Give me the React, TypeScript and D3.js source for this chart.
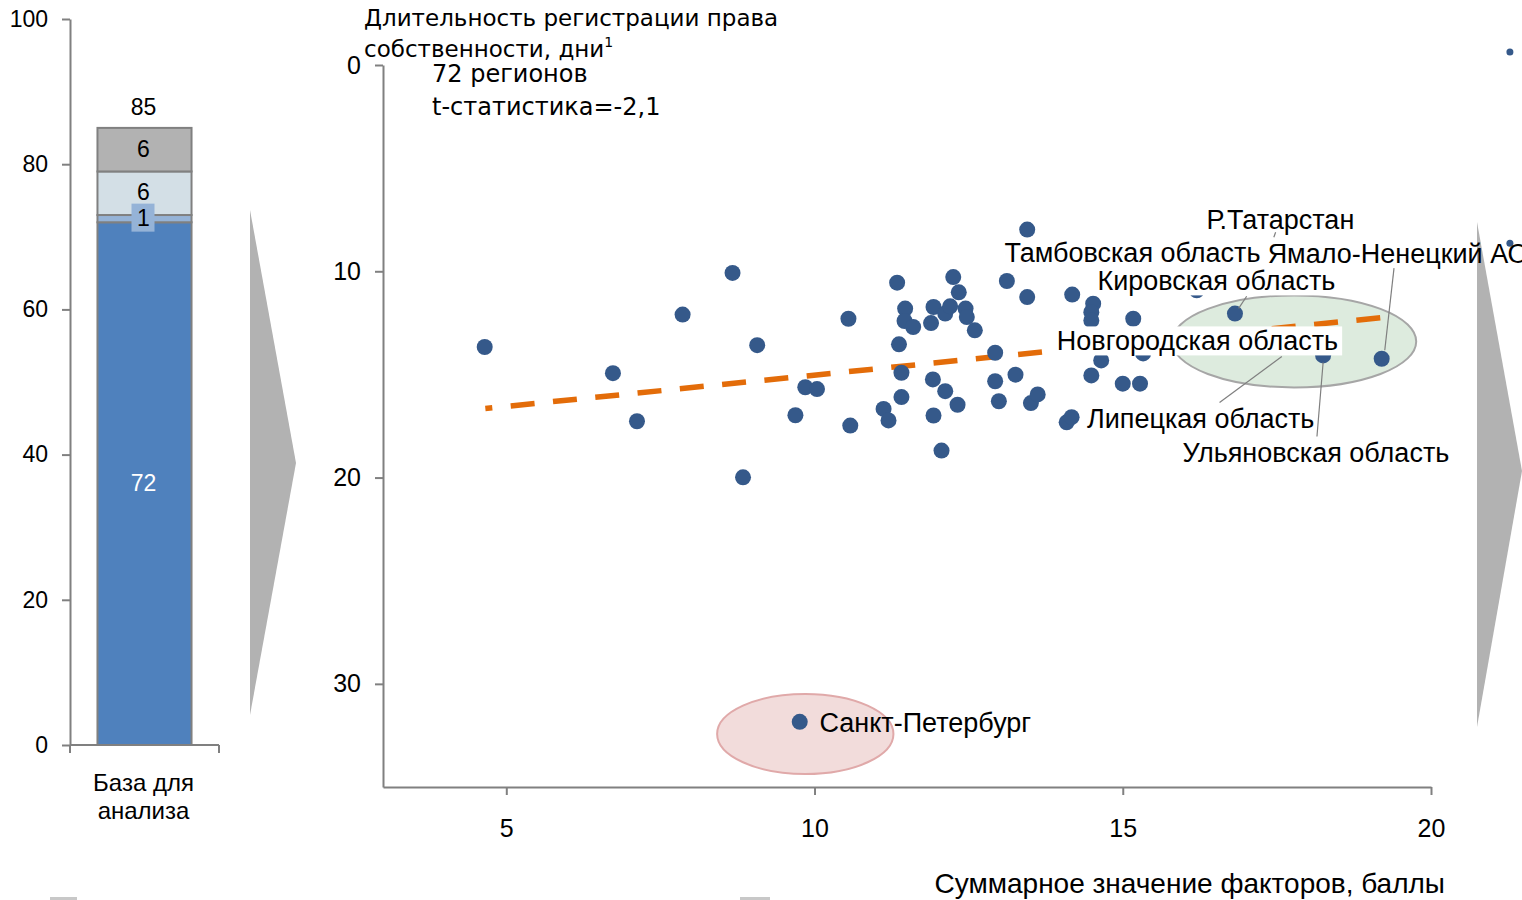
import React, { useEffect, useRef } from 'react';
import * as d3 from 'd3';

// left stacked bar
const barCategory = 'База для анализа';
const barCategoryLines = ['База для', 'анализа'];
const barSegmentValues = [72, 1, 6, 6];
const barSegmentColors = ['#4F81BD', '#95B3D7', '#D3DFE6', '#B2B2B2'];
const barTotal = 85;
const barTicks = [0, 20, 40, 60, 80, 100];

// scatter: x = summary score, y = registration days
const scoreX = [
  4.65, 6.73, 7.12, 7.86, 8.67, 9.07, 8.84, 9.69, 9.85, 10.04, 10.55, 10.58, 11.12, 11.2, 11.34,
  11.37, 11.41, 11.41, 11.47, 11.46, 11.6, 11.93, 11.89, 11.92, 11.93, 12.06, 12.12, 12.12, 12.2,
  12.25, 12.32, 12.34, 12.45, 12.47, 12.6, 12.93, 12.93, 12.99, 13.12, 13.26, 13.45, 13.45, 13.51,
  13.62, 14.09, 14.17, 14.18, 14.52, 14.49, 14.49, 14.49, 14.65, 15.0, 15.28, 15.17, 15.33, 16.2,
  16.82, 18.25, 19.2, 17.71, 9.76,
];
const daysY = [
  13.67, 14.94, 17.27, 12.1, 10.08, 13.58, 19.99, 16.98, 15.62, 15.71, 12.3, 17.48, 16.67, 17.23,
  10.55, 13.54, 14.92, 16.1, 11.81, 12.41, 12.7, 11.73, 12.51, 15.24, 16.99, 18.69, 12.05, 15.81,
  11.7, 10.28, 16.47, 11.02, 11.81, 12.22, 12.86, 13.95, 15.33, 16.3, 10.47, 15.01, 11.25, 7.98,
  16.39, 15.97, 17.32, 17.07, 11.13, 11.57, 11.98, 12.38, 15.05, 14.32, 15.45, 15.45, 12.3, 13.98,
  10.92, 12.05, 14.08, 14.24, 13.35, 31.84,
];
const xTicks = [5, 10, 15, 20];
const yTicks = [0, 10, 20, 30];

const trendX = [4.66, 19.25];
const trendY = [16.65, 12.23];

const labelNames = [
  'Р.Татарстан',
  'Тамбовская область',
  'Ямало-Ненецкий АО',
  'Кировская область',
  'Новгородская область',
  'Липецкая область',
  'Ульяновская область',
  'Санкт-Петербург',
];
const labelX = [16.36, 13.08, 17.35, 14.59, 13.93, 14.42, 15.97, 10.08];
const labelY = [7.52, 9.13, 9.17, 10.49, 13.4, 17.18, 18.83, 31.89];
const labelBoxed = [false, false, false, true, true, false, false, false];

const leaderX1 = [17.48, 17.01, 17.58, 18.25, 19.4];
const leaderY1 = [8.11, 11.21, 14.13, 14.42, 9.85];
const leaderX2 = [17.45, 16.88, 16.57, 18.15, 19.25];
const leaderY2 = [8.35, 11.8, 16.36, 18.01, 13.83];

const groupCx = [17.78, 9.85];
const groupCy = [13.4, 32.43];
const groupRx = [1.98, 1.43];
const groupRy = [2.23, 1.94];
const groupFill = ['#DDEBDE', '#F2DCDB'];
const groupStroke = ['#A6A6A6', '#E0A9A9'];

const edgeX = [21.28, 21.28];
const edgeY = [-0.63, 8.64];

const ARIAL = '"Liberation Sans", Arial, sans-serif';
const TAHOMA = '"DejaVu Sans", Verdana, sans-serif';

const App = () => {
  const ref = useRef<SVGSVGElement>(null);

  useEffect(() => {
    document.body.style.margin = '0';
    const svg = d3.select(ref.current);
    svg.selectAll('*').remove();

    // ---------- left bar ----------
    const yBar = d3.scaleLinear().domain([0, 100]).range([745, 19]);
    const xBar = d3
      .scaleBand()
      .domain([barCategory])
      .range([70, 219])
      .paddingInner(0.226)
      .paddingOuter(0.226);

    const stacked = barSegmentValues.map((v, i) => {
      const start = d3.sum(barSegmentValues.slice(0, i));
      return { start, end: start + v, v, color: barSegmentColors[i] };
    });

    const barG = svg.append('g');
    barG
      .selectAll('rect.seg')
      .data(stacked)
      .join('rect')
      .attr('class', 'seg')
      .attr('x', xBar(barCategory)!)
      .attr('width', xBar.bandwidth())
      .attr('y', (d) => yBar(d.end))
      .attr('height', (d) => yBar(d.start) - yBar(d.end))
      .attr('fill', (d) => d.color)
      .attr('stroke', '#808080')
      .attr('stroke-width', 2);

    const cx = xBar(barCategory)! + xBar.bandwidth() / 2;

    // small box behind the "1" label
    const small = stacked[1];
    const smallMid = yBar((small.start + small.end) / 2);
    barG
      .append('rect')
      .attr('x', cx - 13)
      .attr('y', smallMid - 15)
      .attr('width', 23)
      .attr('height', 28)
      .attr('fill', '#95B3D7');

    barG
      .selectAll('text.val')
      .data(stacked)
      .join('text')
      .attr('class', 'val')
      .attr('x', cx - 1)
      .attr('y', (d) => yBar((d.start + d.end) / 2) - 1)
      .attr('text-anchor', 'middle')
      .attr('dominant-baseline', 'central')
      .attr('font-family', ARIAL)
      .attr('font-size', 23)
      .attr('fill', (d, i) => (i === 0 ? '#FFFFFF' : '#000'))
      .text((d) => d.v);

    barG
      .append('text')
      .attr('x', cx - 1)
      .attr('y', yBar(barTotal) - 21)
      .attr('text-anchor', 'middle')
      .attr('dominant-baseline', 'central')
      .attr('font-family', ARIAL)
      .attr('font-size', 23)
      .text(barTotal);

    const barAxis = barG
      .append('g')
      .attr('transform', 'translate(70,0)')
      .call(d3.axisLeft(yBar).tickValues(barTicks).tickSize(8).tickSizeOuter(0).tickPadding(14));
    barAxis.selectAll('path, line').attr('stroke', '#808080').attr('stroke-width', 2);
    barAxis.selectAll('text').attr('font-family', ARIAL).attr('font-size', 23).attr('fill', '#000');

    const [bx0, bx1] = xBar.range();
    barG
      .append('path')
      .attr('d', `M${bx0},${yBar(0)}H${bx1}M${bx0},${yBar(0)}V${yBar(0) + 8}M${bx1},${yBar(0)}V${yBar(0) + 8}`)
      .attr('stroke', '#808080')
      .attr('stroke-width', 2)
      .attr('fill', 'none');
    barG
      .selectAll('text.cat')
      .data(barCategoryLines)
      .join('text')
      .attr('class', 'cat')
      .attr('x', cx - 1)
      .attr('y', (d, i) => 782 + i * 28)
      .attr('text-anchor', 'middle')
      .attr('dominant-baseline', 'central')
      .attr('font-family', ARIAL)
      .attr('font-size', 24)
      .text((d) => d);

    // arrows
    svg.append('polygon').attr('points', '250,210 296,463 250,715').attr('fill', '#B2B2B2');
    svg.append('polygon').attr('points', '1477,222 1522,471 1477,727').attr('fill', '#B2B2B2');

    // bits of neighbouring slides at the bottom edge
    svg.append('rect').attr('x', 50).attr('y', 897).attr('width', 27).attr('height', 3).attr('fill', '#C8C8C8');
    svg.append('rect').attr('x', 740).attr('y', 897).attr('width', 30).attr('height', 3).attr('fill', '#C8C8C8');

    // ---------- scatter ----------
    const x = d3.scaleLinear().domain([3, 20]).range([383, 1431]);
    const y = d3.scaleLinear().domain([0, 35]).range([65, 787]);
    const g = svg.append('g');

    g.selectAll('ellipse')
      .data(groupCx)
      .join('ellipse')
      .attr('cx', (d) => x(d))
      .attr('cy', (d, i) => y(groupCy[i]))
      .attr('rx', (d, i) => x(d + groupRx[i]) - x(d))
      .attr('ry', (d, i) => y(groupCy[i] + groupRy[i]) - y(groupCy[i]))
      .attr('fill', (d, i) => groupFill[i])
      .attr('stroke', (d, i) => groupStroke[i])
      .attr('stroke-width', 2);

    const yAx = g
      .append('g')
      .attr('transform', `translate(${x(3)},0)`)
      .call(d3.axisLeft(y).tickValues(yTicks).tickSize(8).tickSizeOuter(0).tickPadding(14));
    const xAx = g
      .append('g')
      .attr('transform', `translate(0,${y(35)})`)
      .call(d3.axisBottom(x).tickValues(xTicks).tickSize(8).tickSizeOuter(0).tickPadding(24));
    [yAx, xAx].forEach((a) => {
      a.selectAll('path, line').attr('stroke', '#808080').attr('stroke-width', 2);
      a.selectAll('text').attr('font-family', ARIAL).attr('font-size', 25).attr('fill', '#000');
    });

    const trend = d3
      .line<number>()
      .x((d) => x(d))
      .y((d, i) => y(trendY[i]));
    g.append('path')
      .attr('d', trend(trendX))
      .attr('fill', 'none')
      .attr('stroke', '#E36C09')
      .attr('stroke-width', 5.5)
      .attr('stroke-dasharray', '24 18.5')
      .attr('stroke-dashoffset', 17);

    g.selectAll('circle.pt')
      .data(scoreX)
      .join('circle')
      .attr('class', 'pt')
      .attr('cx', (d) => x(d))
      .attr('cy', (d, i) => y(daysY[i]))
      .attr('r', 8)
      .attr('fill', '#35598A');

    g.selectAll('circle.edge')
      .data(edgeX)
      .join('circle')
      .attr('class', 'edge')
      .attr('cx', (d) => x(d))
      .attr('cy', (d, i) => y(edgeY[i]))
      .attr('r', 3.5)
      .attr('fill', '#35598A');

    g.selectAll('line.leader')
      .data(leaderX1)
      .join('line')
      .attr('class', 'leader')
      .attr('x1', (d) => x(d))
      .attr('y1', (d, i) => y(leaderY1[i]))
      .attr('x2', (d, i) => x(leaderX2[i]))
      .attr('y2', (d, i) => y(leaderY2[i]))
      .attr('stroke', '#7F7F7F')
      .attr('stroke-width', 1.2);

    labelNames.forEach((name, i) => {
      const lg = g.append('g');
      const t = lg
        .append('text')
        .attr('x', x(labelX[i]))
        .attr('y', y(labelY[i]))
        .attr('dominant-baseline', 'central')
        .attr('font-family', ARIAL)
        .attr('font-size', 27)
        .attr('fill', '#000')
        .text(name);
      if (labelBoxed[i]) {
        const bb = (t.node() as SVGTextElement).getBBox();
        lg.insert('rect', 'text')
          .attr('x', bb.x - 4)
          .attr('y', bb.y)
          .attr('width', bb.width + 8)
          .attr('height', bb.height - 1)
          .attr('fill', '#FFFFFF');
      }
    });

    // titles
    const title = g.append('text').attr('font-family', TAHOMA).attr('font-size', 23).attr('fill', '#000');
    title.append('tspan').attr('x', 364).attr('y', 26).text('Длительность регистрации права');
    title.append('tspan').attr('x', 364).attr('y', 57).text('собственности, дни');
    title.append('tspan').attr('dy', -10).attr('font-size', 14).text('1');

    g.append('text')
      .attr('x', 432)
      .attr('y', 82)
      .attr('font-family', TAHOMA)
      .attr('font-size', 24)
      .text('72 регионов');
    g.append('text')
      .attr('x', 432)
      .attr('y', 115)
      .attr('font-family', TAHOMA)
      .attr('font-size', 24)
      .text('t-статистика=-2,1');

    g.append('text')
      .attr('x', 1445)
      .attr('y', 883)
      .attr('text-anchor', 'end')
      .attr('dominant-baseline', 'central')
      .attr('font-family', ARIAL)
      .attr('font-size', 28)
      .text('Суммарное значение факторов, баллы');
  }, []);

  return <svg ref={ref} width={1522} height={900} style={{ display: 'block', background: '#fff' }} />;
};

export default App;
